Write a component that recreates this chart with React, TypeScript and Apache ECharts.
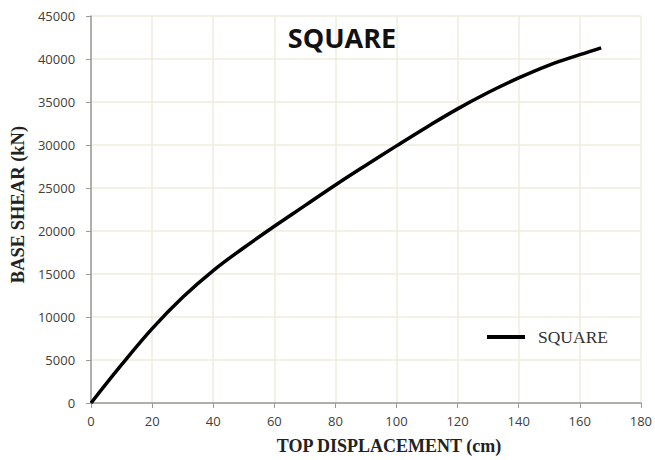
import React, { useEffect, useRef } from "react";
import * as echarts from "echarts";

const displacement = [0, 10, 20, 30, 40, 50, 60, 70, 80, 90, 100, 110, 120, 130, 140, 150, 160, 167];
const baseShear = [0, 4450, 8650, 12300, 15400, 18050, 20550, 22950, 25350, 27650, 29900, 32100, 34200, 36100, 37800, 39300, 40500, 41300];
const seriesName = "SQUARE";

export default function App() {
  const ref = useRef<HTMLDivElement>(null);
  useEffect(() => {
    const chart = echarts.init(ref.current!, null, { renderer: "svg" });
    const gridColor = "#efedde";
    chart.setOption({
      animation: false,
      backgroundColor: "#ffffff",
      title: {
        text: "SQUARE",
        left: 337,
        top: 19,
        textAlign: "center",
        textStyle: { fontFamily: "Open Sans", fontWeight: "bold", fontSize: 27, color: "#111" },
      },
      legend: {
        data: [seriesName],
        left: 482,
        top: 323,
        itemWidth: 38,
        itemHeight: 4,
        itemGap: 8,
        icon: "rect",
        textStyle: { fontFamily: "Liberation Serif", fontSize: 17.5, color: "#333", padding: [0, 0, 0, 8] },
      },
      grid: { left: 90, right: 14, top: 16, bottom: 55 },
      xAxis: {
        type: "value",
        min: 0,
        max: 180,
        interval: 20,
        name: "TOP DISPLACEMENT (cm)",
        nameLocation: "middle",
        nameGap: 34,
        nameTextStyle: {
          fontFamily: "Liberation Serif",
          fontWeight: "bold",
          fontSize: 18,
          color: "#222",
          padding: [0, 0, 0, 46],
        },
        axisLine: { lineStyle: { color: "#999", width: 1.5 } },
        axisTick: { show: true, length: 5, lineStyle: { color: "#999" } },
        axisLabel: { fontFamily: "Open Sans", fontSize: 13, color: "#404040", margin: 11 },
        splitLine: { show: true, lineStyle: { color: gridColor, width: 1.5 } },
      },
      yAxis: {
        type: "value",
        min: 0,
        max: 45000,
        interval: 5000,
        name: "BASE SHEAR (kN)",
        nameLocation: "middle",
        nameGap: 63,
        nameTextStyle: {
          fontFamily: "Liberation Serif",
          fontWeight: "bold",
          fontSize: 18.5,
          color: "#222",
          padding: [0, 0, 0, 10],
        },
        axisLine: { show: true, lineStyle: { color: "#999", width: 1.5 } },
        axisTick: { show: true, length: 5, lineStyle: { color: "#999" } },
        axisLabel: {
          fontFamily: "Open Sans",
          fontSize: 13,
          color: "#404040",
          margin: 16,
          formatter: (v: number) => String(v),
        },
        splitLine: { show: true, lineStyle: { color: gridColor, width: 1.5 } },
      },
      series: [
        {
          name: seriesName,
          type: "line",
          smooth: 0.4,
          showSymbol: false,
          data: displacement.map((x, i) => [x, baseShear[i]]),
          lineStyle: { color: "#000", width: 3.5 },
          itemStyle: { color: "#000" },
        },
      ],
    });
    return () => chart.dispose();
  }, []);
  return <div ref={ref} style={{ width: 655, height: 460, position: "fixed", left: 0, top: 0 }} />;
}
